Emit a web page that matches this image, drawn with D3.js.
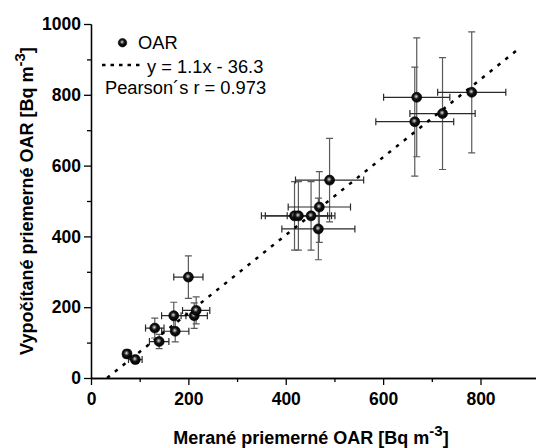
<!DOCTYPE html>
<html>
<head>
<meta charset="utf-8">
<script src="https://cdn.jsdelivr.net/npm/d3@7"></script>
<style>
  body { margin: 0; background: #fff; }
  text { font-family: "Liberation Sans", Arial, sans-serif; }
</style>
</head>
<body>
<script>
// measured (x) vs calculated (y) mean OAR, Bq m-3
const measured      = [74, 91, 131, 140, 170, 173, 200, 212, 216, 418, 426, 452, 469, 467, 490, 665, 669, 722, 782];
const calculated    = [68, 52, 141, 103, 176, 132, 285, 176, 191, 458, 458, 458, 483, 421, 559, 724, 793, 747, 807];
const measuredErr   = [8, 14, 19, 20, 25, 28, 30, 27, 28, 68, 68, 49, 64, 75, 70, 80, 68, 67, 70];
const calculatedErr = [12, 10, 28, 20, 38, 30, 60, 36, 38, 97, 97, 97, 100, 87, 118, 154, 168, 158, 171];

const xTicks = [0, 200, 400, 600, 800];
const xMinor = [100, 300, 500, 700];
const yTicks = [0, 200, 400, 600, 800, 1000];
const yMinor = [100, 300, 500, 700, 900];

const fitSlope = 1.1;
const fitIntercept = -36.3;
const pearsonR = 0.973;

const w = 536, h = 448;

const dataset = measured.map((d, i) => ({
  x: d, y: calculated[i], ex: measuredErr[i], ey: calculatedErr[i]
}));

// scales
const xScale = d3.scaleLinear().domain([0, 914]).range([91, 536]);
const yScale = d3.scaleLinear().domain([0, 1000]).range([378, 24]);

const svg = d3.select("body")
  .append("svg")
    .attr("width", w)
    .attr("height", h);

// sphere look for the markers
const defs = svg.append("defs");
const grad = defs.append("radialGradient")
  .attr("id", "ball")
  .attr("cx", "45%").attr("cy", "42%").attr("r", "58%");
grad.append("stop").attr("offset", "0%").attr("stop-color", "#e8e8e8");
grad.append("stop").attr("offset", "18%").attr("stop-color", "#8a8a8a");
grad.append("stop").attr("offset", "45%").attr("stop-color", "#141414");
grad.append("stop").attr("offset", "100%").attr("stop-color", "#000");

// axes
const xAxis = d3.axisBottom(xScale).tickValues(xTicks).tickFormat(d3.format("d"))
  .tickSize(7).tickPadding(8).tickSizeOuter(0);
const xAxisMinor = d3.axisBottom(xScale).tickValues(xMinor).tickSize(4).tickFormat("").tickSizeOuter(0);
const yAxis = d3.axisLeft(yScale).tickValues(yTicks).tickFormat(d3.format("d"))
  .tickSize(7).tickPadding(3).tickSizeOuter(0);
const yAxisMinor = d3.axisLeft(yScale).tickValues(yMinor).tickSize(4).tickFormat("").tickSizeOuter(0);

function styleAxis(g) {
  g.selectAll("path").attr("stroke", "#000").attr("stroke-width", 1.3);
  g.selectAll("line").attr("stroke", "#000").attr("stroke-width", 1.3);
  g.selectAll("text")
    .attr("fill", "#000")
    .style("font-size", "17.5px")
    .style("font-weight", "bold")
    .style("font-family", "'Liberation Sans', Arial, sans-serif");
}

svg.append("g").attr("transform", `translate(0, ${yScale(0)})`).call(xAxisMinor).call(styleAxis);
svg.append("g").attr("transform", `translate(0, ${yScale(0)})`).call(xAxis).call(styleAxis);
svg.append("g").attr("transform", `translate(${xScale(0)}, 0)`).call(yAxisMinor).call(styleAxis);
svg.append("g").attr("transform", `translate(${xScale(0)}, 0)`).call(yAxis).call(styleAxis);

// error bars
const cap = 3.5;
const eb = svg.append("g").attr("fill", "none").attr("stroke-width", 1.2);

eb.selectAll(".ey")
  .data(dataset)
  .enter()
  .append("path")
    .attr("stroke", "#5a5a5a")
    .attr("d", d => {
      const x = xScale(d.x), y0 = yScale(d.y - d.ey), y1 = yScale(d.y + d.ey);
      return `M${x},${y0}V${y1}M${x - cap},${y0}H${x + cap}M${x - cap},${y1}H${x + cap}`;
    });

eb.selectAll(".ex")
  .data(dataset)
  .enter()
  .append("path")
    .attr("stroke", "#2a2a2a")
    .attr("d", d => {
      const y = yScale(d.y), x0 = xScale(d.x - d.ex), x1 = xScale(d.x + d.ex);
      return `M${x0},${y}H${x1}M${x0},${y - cap}V${y + cap}M${x1},${y - cap}V${y + cap}`;
    });

// fit line
const fitX0 = -fitIntercept / fitSlope;
const fitX1 = 882;
svg.append("line")
  .attr("x1", xScale(fitX0))
  .attr("y1", yScale(0))
  .attr("x2", xScale(fitX1))
  .attr("y2", yScale(fitSlope * fitX1 + fitIntercept))
  .attr("stroke", "#000")
  .attr("stroke-width", 2.5)
  .attr("stroke-dasharray", "3.5,6.5");

// points
svg.append("g")
  .selectAll("circle")
  .data(dataset)
  .enter()
  .append("circle")
    .attr("cx", d => xScale(d.x))
    .attr("cy", d => yScale(d.y))
    .attr("r", 5)
    .attr("fill", "url(#ball)")
    .attr("stroke", "#000")
    .attr("stroke-width", 0.6);

// legend
const lg = svg.append("g").style("font-size", "18.3px");
lg.append("circle")
  .attr("cx", 122.5).attr("cy", 42.7).attr("r", 4.3)
  .attr("fill", "url(#ball)").attr("stroke", "#000").attr("stroke-width", 0.5);
lg.append("text").attr("x", 138).attr("y", 49).text("OAR");
lg.append("line")
  .attr("x1", 102).attr("y1", 65).attr("x2", 144).attr("y2", 65)
  .attr("stroke", "#000").attr("stroke-width", 2.5)
  .attr("stroke-dasharray", "3.5,5");
lg.append("text").attr("x", 147).attr("y", 72.5)
  .text(`y = ${fitSlope}x - ${Math.abs(fitIntercept)}`);
lg.append("text").attr("x", 105).attr("y", 94)
  .text(`Pearson\u00B4s r = ${pearsonR}`);

// axis titles
const xt = svg.append("text")
  .attr("x", 311).attr("y", 444)
  .attr("text-anchor", "middle")
  .style("font-size", "18px").style("font-weight", "bold");
xt.append("tspan").text("Meran\u00E9 priemern\u00E9 OAR [Bq m");
xt.append("tspan").attr("dy", -8).style("font-size", "15px").text("-3");
xt.append("tspan").attr("dy", 8).text("]");

const yt = svg.append("text")
  .attr("transform", "translate(33, 201) rotate(-90)")
  .attr("text-anchor", "middle")
  .style("font-size", "18px").style("font-weight", "bold");
yt.append("tspan").text("Vypo\u010D\u00EDtan\u00E9 priemern\u00E9 OAR [Bq m");
yt.append("tspan").attr("dy", -8).style("font-size", "15px").text("-3");
yt.append("tspan").attr("dy", 8).text("]");
</script>
</body>
</html>
